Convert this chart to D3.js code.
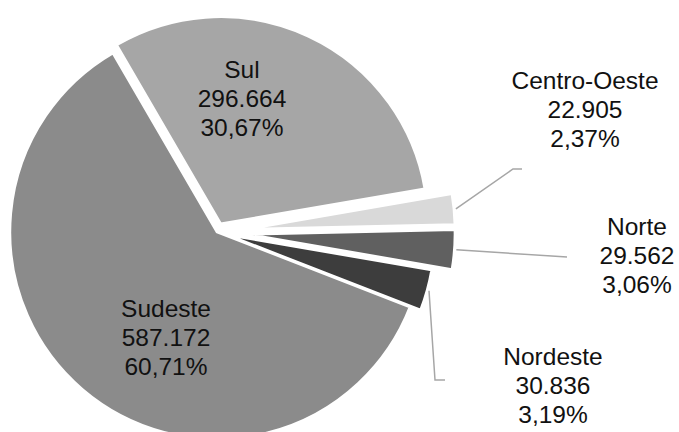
<!DOCTYPE html>
<html>
<head>
<meta charset="utf-8">
<script src="https://cdn.jsdelivr.net/npm/d3@7"></script>
<style>
  body { margin: 0; background: #fff; }
  svg { display: block; }
</style>
</head>
<body>
<svg id="chart" width="679" height="432"></svg>
<script>
// dados
const regioes = ["Sul", "Centro-Oeste", "Norte", "Nordeste", "Sudeste"];
const valores = [296664, 22905, 29562, 30836, 587172];
const cores = ["#a6a6a6", "#d9d9d9", "#606060", "#3d3d3d", "#8b8b8b"];

// layout
const width = 679, height = 432;
const cx = 217, cy = 232, raio = 207;
const explode = [9, 31, 31, 11, 0];
const rotulos = [
    { x: 242, y: 107 },
    { x: 585, y: 118 },
    { x: 637, y: 264 },
    { x: 553, y: 394 },
    { x: 166, y: 346 }
];
// pontos das linhas de chamada (depois do ponto na fatia)
const chamadas = [
    null,
    [[513, 169], [522, 169]],
    [[567, 257]],
    [[435, 380], [445, 380]],
    null
];

const br = d3.formatLocale({ decimal: ",", thousands: ".", grouping: [3], currency: ["R$", ""] });
const fmtNum = br.format(",d");
const fmtPct = br.format(".2f");

const total = d3.sum(valores);
const dados = regioes.map((r, i) => ({ regiao: r, valor: valores[i], i: i }));

const start = -30.2 * Math.PI / 180;
const pie = d3.pie()
    .value(d => d.valor)
    .sort(null)
    .startAngle(start)
    .endAngle(start + 2 * Math.PI);

const arc = d3.arc().innerRadius(0).outerRadius(raio);

const svg = d3.select("#chart");
const g = svg.append("g").attr("transform", `translate(${cx},${cy})`);

const arcs = pie(dados);

function dir(a) { return [Math.sin(a), -Math.cos(a)]; }

g.selectAll("path.fatia")
    .data(arcs)
    .join("path")
    .attr("class", "fatia")
    .attr("d", arc)
    .attr("fill", d => cores[d.data.i])
    .attr("stroke", "#fff")
    .attr("stroke-width", 2.5)
    .attr("stroke-linejoin", "round")
    .attr("transform", d => {
        const m = (d.startAngle + d.endAngle) / 2;
        const [dx, dy] = dir(m);
        const e = explode[d.data.i];
        return `translate(${dx * e},${dy * e})`;
    });

// linhas de chamada
arcs.forEach(d => {
    const pts = chamadas[d.data.i];
    if (!pts) return;
    const m = (d.startAngle + d.endAngle) / 2;
    const [dx, dy] = dir(m);
    const r = raio + explode[d.data.i] + 2;
    const p0 = [cx + dx * r, cy + dy * r];
    svg.append("polyline")
        .attr("points", [p0].concat(pts).map(p => p.join(",")).join(" "))
        .attr("fill", "none")
        .attr("stroke", "#a6a6a6")
        .attr("stroke-width", 1.5);
});

// rótulos
arcs.forEach(d => {
    const pos = rotulos[d.data.i];
    const linhas = [
        d.data.regiao,
        fmtNum(d.data.valor),
        fmtPct(d.data.valor / total * 100) + "%"
    ];
    const t = svg.append("text")
        .attr("x", pos.x)
        .attr("y", pos.y)
        .attr("text-anchor", "middle")
        .attr("font-family", "Liberation Sans, Arial, sans-serif")
        .attr("font-size", "24.5px")
        .attr("fill", "#111");
    linhas.forEach((l, k) => {
        t.append("tspan")
            .attr("x", pos.x)
            .attr("y", pos.y + (k - 1) * 28.8)
            .text(l);
    });
});
</script>
</body>
</html>
